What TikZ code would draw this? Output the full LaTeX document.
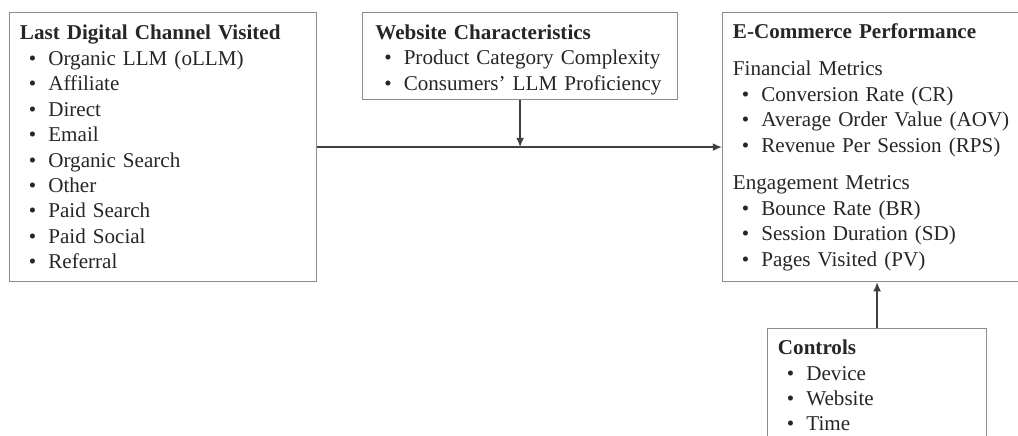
\documentclass[tikz,border=0pt]{standalone}
\usepackage{fontspec}
\setmainfont{Liberation Serif}
\usetikzlibrary{arrows.meta}

\newcommand{\bul}{\hspace*{0.225cm}\textbullet\hspace{0.3cm}}

\tikzset{
  panel/.style={draw=black!45, line width=0.8pt, align=left, anchor=north west,
    inner xsep=0.26cm, inner ysep=0pt, text=black!85,
    font=\fontsize{15}{18.1}\selectfont},
  link/.style={draw=black!75, line width=0.9pt, -{Latex[length=6.5pt,width=5.5pt]}}
}

\begin{document}
\begin{tikzpicture}[x=0.025cm, y=-0.025cm]
  \useasboundingbox (0,0) rectangle (1018,435);
  \clip (0,0) rectangle (1018,435);

  % Channel box
  \node[panel, text width=7.155cm, minimum height=6.725cm] (chan) at (9,12)
    {\textbf{Last Digital Channel Visited}\\
     \bul Organic LLM (oLLM)\\
     \bul Affiliate\\
     \bul Direct\\
     \bul Email\\
     \bul Organic Search\\
     \bul Other\\
     \bul Paid Search\\
     \bul Paid Social\\
     \bul Referral};

  % Moderator box
  \node[panel, inner xsep=0.32cm, text width=7.235cm, minimum height=2.175cm] (web) at (362,12)
    {\rule{0pt}{0.55cm}\textbf{Website Characteristics}\\
     \bul Product Category Complexity\\
     \bul Consumers' LLM Proficiency};

  % Outcome box
  \node[panel, text width=6.98cm, minimum height=6.725cm] (perf) at (722,12)
    {\textbf{E-Commerce Performance}\\[0.3cm]
     Financial Metrics\\
     \bul Conversion Rate (CR)\\
     \bul Average Order Value (AOV)\\
     \bul Revenue Per Session (RPS)\\[0.3cm]
     Engagement Metrics\\
     \bul Bounce Rate (BR)\\
     \bul Session Duration (SD)\\
     \bul Pages Visited (PV)};

  % Controls box
  \node[panel, text width=4.955cm, minimum height=2.85cm] (ctrl) at (767,328)
    {\textbf{Controls}\\
     \bul Device\\
     \bul Website\\
     \bul Time};

  % Arrows
  \coordinate (join) at (web.south |- chan.east);
  \draw[link] (chan.east) -- (perf.west);
  \draw[link] (web.south) -- (join);
  \draw[link] (ctrl.north) -- (ctrl.north |- perf.south);
\end{tikzpicture}
\end{document}
